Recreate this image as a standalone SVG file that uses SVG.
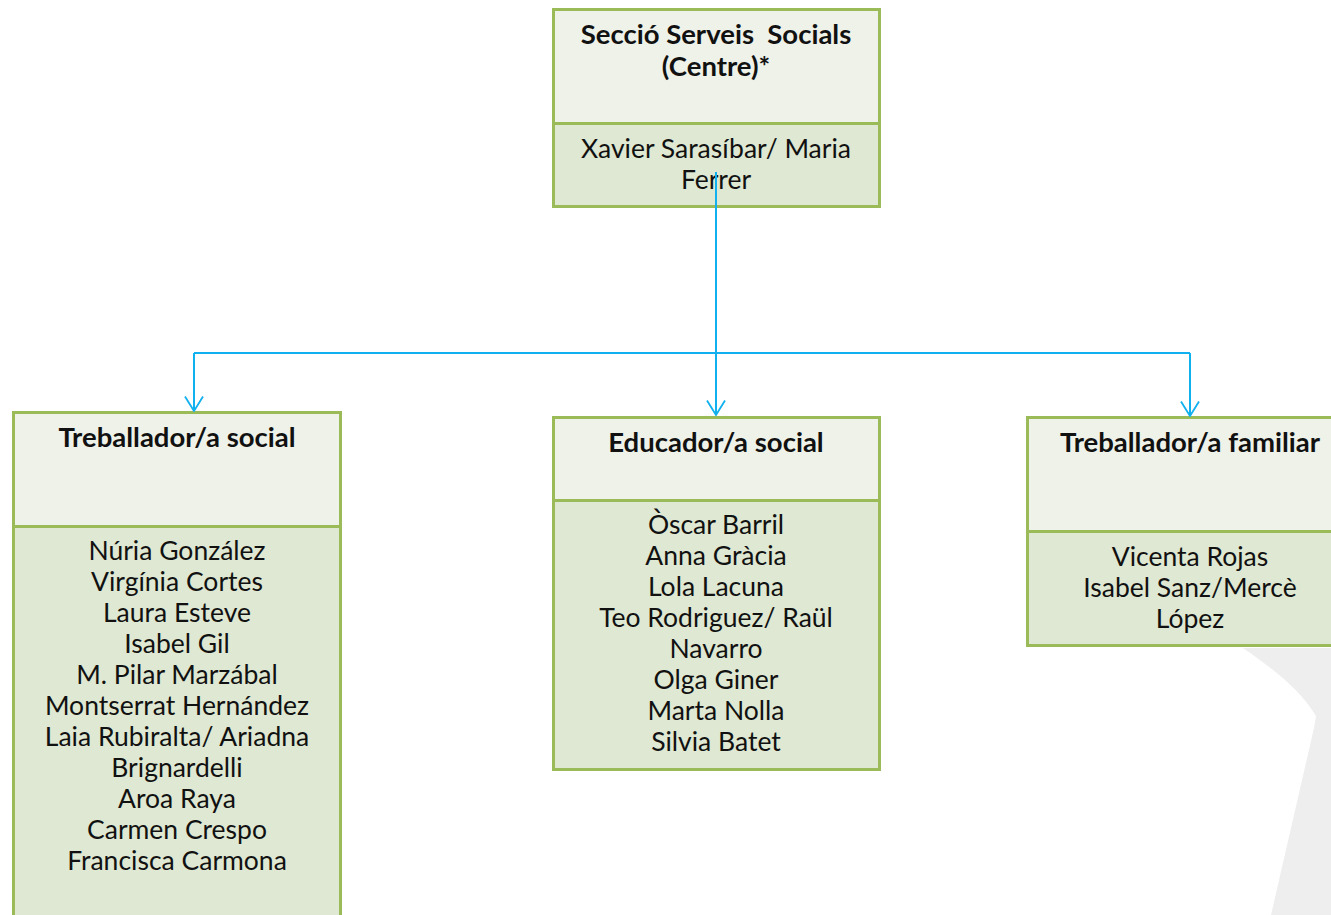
<svg xmlns="http://www.w3.org/2000/svg" width="1331" height="915" viewBox="0 0 1331 915">
<defs>
<style>
.hd{fill:#eff2e9;stroke:#9bbb59;stroke-width:3}
.bd{fill:#dfe8d2;stroke:#9bbb59;stroke-width:3}
.t{font-family:Lato,"Open Sans",sans-serif;font-size:26.5px;fill:#111;text-anchor:middle;white-space:pre}
.b{font-weight:bold;font-size:27.5px}
.c{fill:none;stroke:#11b0ee;stroke-width:2}
</style>
<marker id="ah" viewBox="0 0 16 20" refX="15" refY="10" markerWidth="16" markerHeight="20" markerUnits="userSpaceOnUse" orient="auto">
<path d="M0.5,1 L15,10 L0.5,19" fill="none" stroke="#11b0ee" stroke-width="1.8"/>
</marker>
</defs>
<rect width="1331" height="915" fill="#fff"/>
<path d="M1243,648 L1331,648 L1331,915 L1271,915 L1314,728 L1316,716 C1300,690 1275,670 1243,648 Z" fill="#eeeeee"/>
<g id="top">
<rect class="hd" x="553.5" y="9.5" width="326" height="114"/>
<rect class="bd" x="553.5" y="123.5" width="326" height="83"/>
<text class="t b" x="716" y="44" xml:space="preserve">Secció Serveis  Socials</text>
<text class="t b" x="716" y="76">(Centre)*</text>
<text class="t" x="716" y="158">Xavier Sarasíbar/ Maria</text>
<text class="t" x="716" y="189">Ferrer</text>
</g>
<g id="social">
<rect class="hd" x="13.5" y="412.5" width="327" height="114"/>
<rect class="bd" x="13.5" y="526.5" width="327" height="400"/>
<text class="t b" x="177" y="447">Treballador/a social</text>
<text class="t" x="177" y="560">Núria González</text>
<text class="t" x="177" y="591">Virgínia Cortes</text>
<text class="t" x="177" y="622">Laura Esteve</text>
<text class="t" x="177" y="653">Isabel Gil</text>
<text class="t" x="177" y="684">M. Pilar Marzábal</text>
<text class="t" x="177" y="715">Montserrat Hernández</text>
<text class="t" x="177" y="746">Laia Rubiralta/ Ariadna</text>
<text class="t" x="177" y="777">Brignardelli</text>
<text class="t" x="177" y="808">Aroa Raya</text>
<text class="t" x="177" y="839">Carmen Crespo</text>
<text class="t" x="177" y="870">Francisca Carmona</text>
</g>
<g id="educador">
<rect class="hd" x="553.5" y="417.5" width="326" height="83"/>
<rect class="bd" x="553.5" y="500.5" width="326" height="269"/>
<text class="t b" x="716" y="452">Educador/a social</text>
<text class="t" x="716" y="534">Òscar Barril</text>
<text class="t" x="716" y="565">Anna Gràcia</text>
<text class="t" x="716" y="596">Lola Lacuna</text>
<text class="t" x="716" y="627">Teo Rodriguez/ Raül</text>
<text class="t" x="716" y="658">Navarro</text>
<text class="t" x="716" y="689">Olga Giner</text>
<text class="t" x="716" y="720">Marta Nolla</text>
<text class="t" x="716" y="751">Silvia Batet</text>
</g>
<g id="familiar">
<rect class="hd" x="1027.5" y="417.5" width="330" height="114"/>
<rect class="bd" x="1027.5" y="531.5" width="330" height="114"/>
<text class="t b" x="1190" y="452">Treballador/a familiar</text>
<text class="t" x="1190" y="566">Vicenta Rojas</text>
<text class="t" x="1190" y="597">Isabel Sanz/Mercè</text>
<text class="t" x="1190" y="628">López</text>
</g>
<g id="connectors">
<path class="c" d="M716,172 L716,353" stroke-width="3"/>
<path class="c" d="M194,353 L1190,353"/>
<path class="c" d="M716,353 L716,415" marker-end="url(#ah)"/>
<path class="c" d="M194,353 L194,411" marker-end="url(#ah)"/>
<path class="c" d="M1190,353 L1190,416" marker-end="url(#ah)"/>
</g>
</svg>
